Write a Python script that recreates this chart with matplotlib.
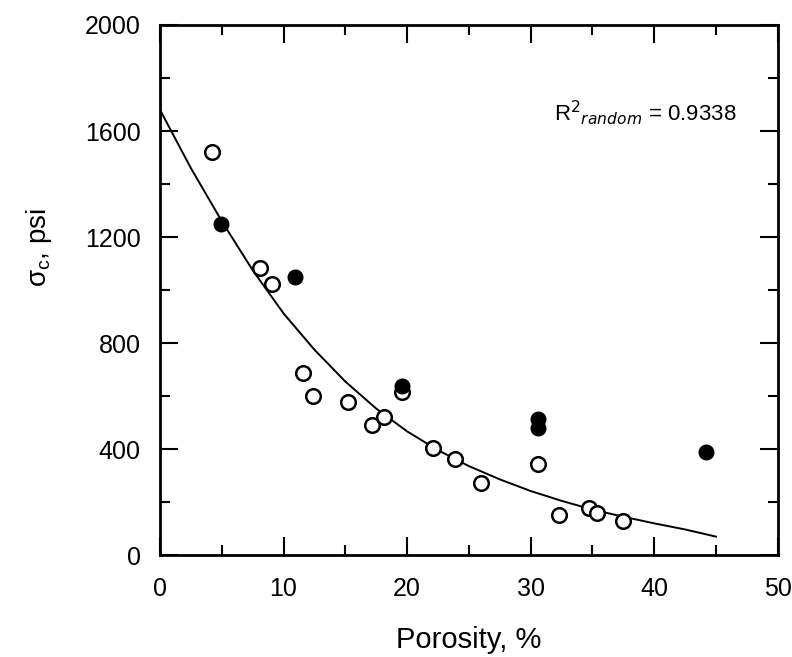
import numpy as np
import matplotlib
matplotlib.use('Agg')
import matplotlib.pyplot as plt
from matplotlib.ticker import MultipleLocator

plt.rcParams['font.family'] = ['Liberation Sans', 'DejaVu Sans']

# open circles (porosity %, sigma_c psi)
open_x = [4.2, 8.1, 9.1, 11.6, 12.4, 15.2, 17.2, 18.1, 19.6, 22.1, 23.9, 26.0, 30.6, 32.3, 34.7, 35.4, 37.5]
open_y = [1520, 1083, 1023, 687, 600, 577, 491, 521, 615, 404, 362, 272, 345, 151, 177, 158, 128]

# filled circles
fill_x = [4.9, 10.9, 19.6, 30.6, 30.6, 44.2]
fill_y = [1249, 1049, 638, 513, 480, 389]

# fitted curve
curve_x = [0, 2.5, 5, 7.5, 10, 12.5, 15, 17.5, 20, 22.5, 25, 27.5, 30, 32.5, 35, 37.5, 40, 42.5, 45]
curve_y = [1680, 1460, 1260, 1075, 912, 775, 655, 553, 467, 396, 336, 286, 242, 205, 172, 145, 120, 97, 70]

r2_label = r'R$^2$$_{random}$ = 0.9338'

fig = plt.figure(figsize=(7.92, 6.57), dpi=100)
ax = fig.add_axes([0.202, 0.155, 0.78, 0.807])

ax.plot(curve_x, curve_y, color='black', lw=1.4)
ax.plot(open_x, open_y, 'o', ms=10.5, mfc='white', mec='black', mew=1.8, ls='none')
ax.plot(fill_x, fill_y, 'o', ms=10.5, mfc='black', mec='black', ls='none')

ax.set_xlim(0, 50)
ax.set_ylim(0, 2000)
ax.xaxis.set_major_locator(MultipleLocator(10))
ax.xaxis.set_minor_locator(MultipleLocator(5))
ax.yaxis.set_major_locator(MultipleLocator(400))
ax.yaxis.set_minor_locator(MultipleLocator(200))
ax.tick_params(which='both', direction='in', top=True, right=True, width=1.5, labelsize=18)
ax.tick_params(which='major', length=13)
ax.tick_params(which='minor', length=7)
ax.tick_params(axis='x', pad=16)
ax.tick_params(axis='y', pad=14)
for s in ax.spines.values():
    s.set_linewidth(2)

ax.set_xlabel('Porosity, %', fontsize=21, labelpad=18)
ax.set_ylabel(r'$\mathregular{\sigma_c}$, psi', fontsize=20)
ax.yaxis.set_label_coords(-0.172, 0.58)

ax.text(31.9, 1668, r2_label, fontsize=16, va='center', ha='left')

fig.savefig('out.png', dpi=100)
